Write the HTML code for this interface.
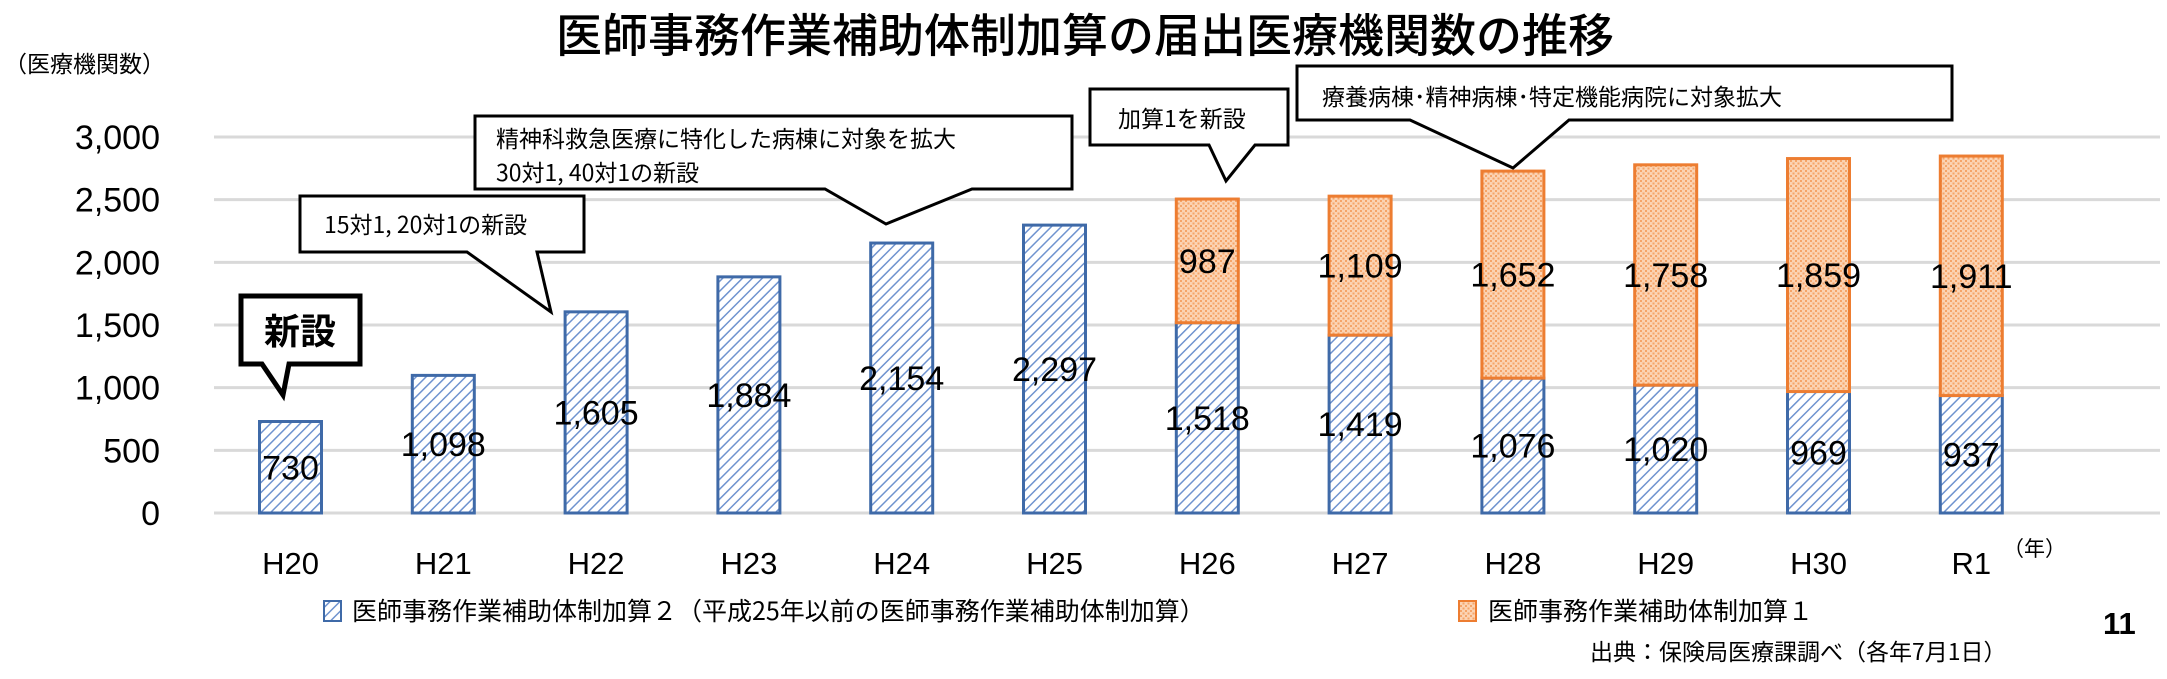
<!DOCTYPE html>
<html><head><meta charset="utf-8">
<style>
html,body{margin:0;padding:0;background:#fff;}
svg{display:block;font-family:"Liberation Sans","Noto Sans CJK JP",sans-serif;}
</style></head>
<body>
<svg id="chart" width="2167" height="679" viewBox="0 0 2167 679" xmlns="http://www.w3.org/2000/svg">
<defs>
<pattern id="hatch" patternUnits="userSpaceOnUse" width="7" height="7" patternTransform="rotate(45)">
<rect width="7" height="7" fill="#ffffff"/>
<line x1="0" y1="0" x2="0" y2="7" stroke="#6f93cf" stroke-width="3"/>
</pattern>
<pattern id="dots" patternUnits="userSpaceOnUse" width="5" height="5">
<rect width="5" height="5" fill="#fbd3b3"/>
<rect x="0" y="0" width="2" height="2" fill="#f5a468"/>
<rect x="2.5" y="2.5" width="2" height="2" fill="#f5a468"/>
</pattern>
</defs>
<text x="1085" y="52" text-anchor="middle" font-size="46" font-weight="500" font-family="'Noto Sans CJK JP',sans-serif">医師事務作業補助体制加算の届出医療機関数の推移</text>
<text x="4" y="72" font-size="23" font-family="'Noto Sans CJK JP',sans-serif">（医療機関数）</text>
<g id="grid"></g>
<g id="bars"></g>
<g id="labels"></g>
<g id="callouts" font-family="'Noto Sans CJK JP',sans-serif">
<g>
<path d="M241 296 H360 V364 H289 L283 395 L262 364 H241 Z" fill="#fff" stroke="#000" stroke-width="5"/>
<text x="300" y="344" text-anchor="middle" font-size="36" font-weight="bold">新設</text>
</g>
<g>
<path d="M300 196 H584 V252 H537 L551 312 L467 252 H300 Z" fill="#fff" stroke="#000" stroke-width="3"/>
<text x="324" y="233" font-size="23">15対1, 20対1の新設</text>
</g>
<g>
<path d="M475 116 H1072 V189 H972 L886 224 L825 189 H475 Z" fill="#fff" stroke="#000" stroke-width="3"/>
<text x="496" y="147" font-size="23">精神科救急医療に特化した病棟に対象を拡大</text>
<text x="496" y="181" font-size="23">30対1, 40対1の新設</text>
</g>
<g>
<path d="M1090 89 H1288 V145 H1255 L1226 181 L1209 145 H1090 Z" fill="#fff" stroke="#000" stroke-width="3"/>
<text x="1118" y="127" font-size="23">加算1を新設</text>
</g>
<g>
<path d="M1297 66 H1952 V120 H1569 L1513 168 L1410 120 H1297 Z" fill="#fff" stroke="#000" stroke-width="3"/>
<text x="1322" y="105" font-size="23">療養病棟･精神病棟･特定機能病院に対象拡大</text>
</g>
</g>
<g>
<rect x="324" y="601" width="17" height="20" fill="url(#hatch)" stroke="#3f6aa8" stroke-width="2"/>
<text x="352" y="620" font-size="25" font-family="'Noto Sans CJK JP',sans-serif">医師事務作業補助体制加算２（平成25年以前の医師事務作業補助体制加算）</text>
<rect x="1459" y="601" width="17" height="20" fill="url(#dots)" stroke="#ed7d31" stroke-width="2"/>
<text x="1488" y="620" font-size="25" font-family="'Noto Sans CJK JP',sans-serif">医師事務作業補助体制加算１</text>
</g>
<text x="2103" y="634" font-size="31" font-weight="bold">11</text>
<text x="1590" y="660" font-size="23" font-family="'Noto Sans CJK JP',sans-serif">出典：保険局医療課調べ（各年7月1日）</text>
<text x="2003" y="556" font-size="21" font-family="'Noto Sans CJK JP',sans-serif">（年）</text>
</svg>
<script>
const categories = ["H20","H21","H22","H23","H24","H25","H26","H27","H28","H29","H30","R1"];
const kasan2 = [730,1098,1605,1884,2154,2297,1518,1419,1076,1020,969,937];
const kasan1 = [0,0,0,0,0,0,987,1109,1652,1758,1859,1911];
const yTicks = [0,500,1000,1500,2000,2500,3000];
const yTickLabels = ["0","500","1,000","1,500","2,000","2,500","3,000"];

const NS = "http://www.w3.org/2000/svg";
const plotLeft = 214, plotRight = 2160, y0 = 513, y3000 = 137;
const yMax = 3000;
function yScale(v){ return y0 - (v / yMax) * (y0 - y3000); }
function xCenter(i){ return 290.5 + i * 152.8; }
const barW = 62;
function fmt(v){ return v.toLocaleString("en-US"); }
function mk(tag, attrs, parent){
  const el = document.createElementNS(NS, tag);
  for (const k in attrs) el.setAttribute(k, attrs[k]);
  parent.appendChild(el);
  return el;
}
const grid = document.getElementById("grid");
const bars = document.getElementById("bars");
const labels = document.getElementById("labels");

yTicks.forEach((t, i) => {
  const y = yScale(t);
  const ln = mk("line", {x1: plotLeft, x2: plotRight, y1: y, y2: y, stroke: "#d9d9d9", "stroke-width": 3}, grid);
  
  
  const tx = mk("text", {x: 160, y: y + 12, "text-anchor": "end", "font-size": 34}, grid);
  
  
  tx.textContent = yTickLabels[i];
});

categories.forEach((c, i) => {
  const cx = xCenter(i);
  const v2 = kasan2[i], v1 = kasan1[i];
  const yTop2 = yScale(v2);
  const r2 = mk("rect", {x: cx - barW/2, y: yTop2, width: barW, height: y0 - yTop2, fill: "url(#hatch)", stroke: "#3f6aa8", "stroke-width": 3}, bars);
  
  
  const l2 = mk("text", {x: cx, y: (y0 + yTop2) / 2 + 12, "text-anchor": "middle", "font-size": 34}, labels);
  
  
  l2.textContent = fmt(v2);
  if (v1 > 0) {
    const yTop1 = yScale(v2 + v1);
    const r1 = mk("rect", {x: cx - barW/2, y: yTop1, width: barW, height: yTop2 - yTop1, fill: "url(#dots)", stroke: "#ed7d31", "stroke-width": 3}, bars);
    
    
    const ly = Math.min(Math.max((yTop1 + yTop2) / 2, yTop1 + 40), 278) + 12;
    const l1 = mk("text", {x: cx, y: ly, "text-anchor": "middle", "font-size": 34}, labels);
    
    
    l1.textContent = fmt(v1);
  }
  const xl = mk("text", {x: cx, y: 574, "text-anchor": "middle", "font-size": 31}, labels);
  
  
  xl.textContent = c;
});
</script>
</body></html>
